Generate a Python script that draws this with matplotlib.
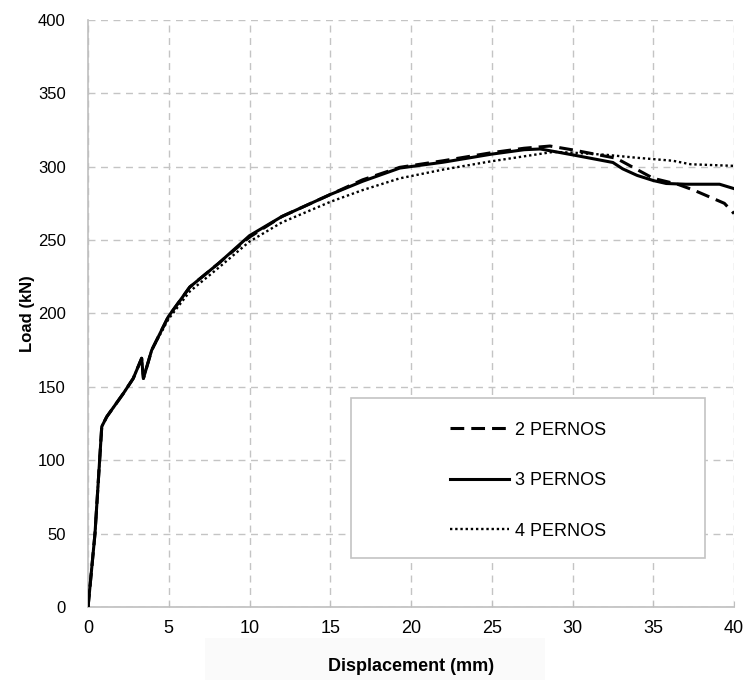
import matplotlib
matplotlib.use('Agg')
import matplotlib.pyplot as plt
from matplotlib.patches import Rectangle

plt.rcParams['font.family'] = ['Liberation Sans', 'DejaVu Sans']

# 3 PERNOS (solid)
x3 = [0, 0.43, 0.85, 1.16, 2.19, 2.8, 3.32, 3.43, 3.94, 4.97, 6.3, 8.07, 10, 12, 15, 17, 19.3,
      22, 25, 27, 28, 30, 32.5, 33.1, 34, 35, 35.8, 37, 39.1, 40]
y3 = [0, 50, 123, 129.7, 145.6, 155.8, 169.5, 155.8, 175, 197.8, 218, 234, 253, 266, 281, 290, 299,
      303, 308.5, 311.5, 312, 308, 302.8, 298.5, 294, 290.5, 288.5, 288, 288, 285]

# 2 PERNOS (dashed)
x2 = [0, 0.43, 0.85, 1.16, 2.19, 2.8, 3.32, 3.43, 3.94, 4.97, 6.3, 8.07, 10, 12, 15, 17, 19.3,
      22, 25, 27, 28.6, 30, 32.7, 35, 36.5, 37.5, 39.4, 40]
y2 = [0, 50, 123, 129.7, 145.6, 155.8, 169.5, 155.8, 175, 197.8, 218, 234, 252, 266, 281, 291, 299.5,
      304, 309.5, 312.5, 314, 311.4, 305.7, 292, 288, 284, 275, 268]

# 4 PERNOS (dotted)
x4 = [0, 0.43, 0.85, 1.16, 2.19, 2.8, 3.32, 3.43, 3.94, 4.97, 6.3, 8.07, 10, 12, 15, 17, 19.3,
      22, 24.9, 27, 28.8, 30, 32.1, 34, 36.2, 37.3, 40]
y4 = [0, 50, 123, 129.7, 145.6, 155.8, 169.5, 155.8, 175, 196, 215, 231, 249, 262, 276, 284, 292,
      298, 303.5, 307, 310, 309.5, 308, 306, 304, 301.6, 300.5]

fig = plt.figure(figsize=(7.46, 6.8), dpi=100)
fig.patches.append(Rectangle((0.275, 0.0), 0.455, 0.062, transform=fig.transFigure,
                             facecolor='#fafafa', edgecolor='none', zorder=-5))
ax = fig.add_axes([0.118, 0.107, 0.866, 0.864])
ax.set_facecolor('none')

ax.plot(x2, y2, color='black', lw=2.2, ls=(0, (4.5, 2.3)), label='2 PERNOS', zorder=3)
ax.plot(x3, y3, color='black', lw=2.2, ls='-', label='3 PERNOS', zorder=3)
ax.plot(x4, y4, color='black', lw=1.7, ls=(0, (1, 1.2)), label='4 PERNOS', zorder=3)

ax.set_xlim(0, 40)
ax.set_ylim(0, 400)
ax.set_xticks(range(0, 41, 5))
ax.set_yticks(range(0, 401, 50))
ax.grid(True, color='#c4c4c4', ls=(0, (5, 4)), lw=1)
ax.set_axisbelow(True)
for s in ['top', 'right']:
    ax.spines[s].set_visible(False)
for s in ['left', 'bottom']:
    ax.spines[s].set_color('#bfbfbf')
    ax.spines[s].set_linewidth(1.2)
ax.tick_params(axis='x', direction='in', length=4, color='#bfbfbf', labelsize=13, pad=9)
ax.tick_params(axis='y', length=0, labelsize=12, pad=16)

ax.set_xlabel('Displacement (mm)', fontsize=13, fontweight='bold', labelpad=15)
ax.set_ylabel('Load (kN)', fontsize=12, fontweight='bold', labelpad=2)

# legend frame box and centred legend content
ax.add_patch(Rectangle((16.3, 33.4), 21.9, 109, facecolor='white', edgecolor='#c4c4c4',
                       lw=1.2, zorder=4))
leg = ax.legend(loc='center', bbox_to_anchor=(0.681, 0.2155), frameon=False,
                fontsize=13, handlelength=3.3, labelspacing=1.85, handletextpad=0.3,
                borderaxespad=0)
leg.set_zorder(5)

fig.savefig('out.png', dpi=100)
